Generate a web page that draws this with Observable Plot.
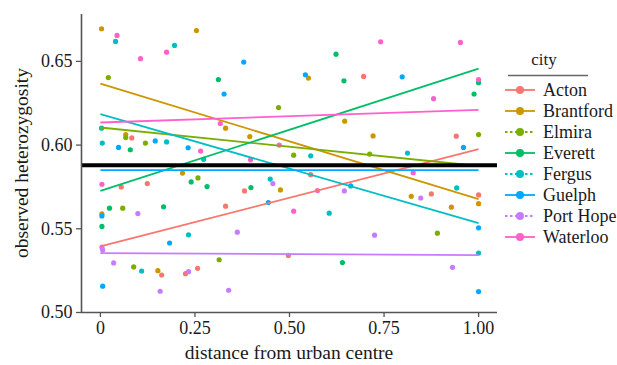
<!DOCTYPE html>
<html>
<head>
<meta charset="utf-8">
<script src="https://cdn.jsdelivr.net/npm/d3@7"></script>
<script src="https://cdn.jsdelivr.net/npm/@observablehq/plot@0.6"></script>
<style>
  html, body { margin: 0; padding: 0; background: #fff; }
  #wrap { position: relative; width: 617px; height: 365px; }
  #wrap svg { position: absolute; left: 0; top: 0; }
  #wrap svg, #wrap svg text { font-family: "Liberation Serif", "Times New Roman", Times, "DejaVu Serif", serif !important; }
</style>
</head>
<body>
<div id="wrap"></div>
<script>
// ---- data ----
const cities = ["Acton", "Brantford", "Elmira", "Everett", "Fergus", "Guelph", "Port Hope", "Waterloo"];
const cityColors = ["#F8766D", "#CD9600", "#7CAE00", "#00BE67", "#00BFC4", "#00A9FF", "#C77CFF", "#FF61CC"];
const legendDashed = [false, false, true, false, true, false, true, false];

// observed heterozygosity at each site: [distance, heterozygosity]
const acton = [[0.055,0.575],[0.083,0.6043],[0.124,0.577],[0.162,0.5224],[0.225,0.5232],[0.257,0.5264],[0.331,0.5635],[0.381,0.5726],[0.497,0.5341],[0.556,0.5823],[0.696,0.641],[0.875,0.5708],[0.941,0.6053],[1.0,0.5702]];
const brantford = [[0.003,0.6695],[0.004,0.5589],[0.067,0.6063],[0.152,0.525],[0.217,0.5833],[0.254,0.6684],[0.331,0.6101],[0.395,0.6051],[0.476,0.5732],[0.550,0.640],[0.646,0.6143],[0.721,0.6055],[0.822,0.5694],[0.928,0.5629],[1.0,0.565]];
const elmira = [[0.021,0.6403],[0.059,0.5623],[0.067,0.6045],[0.088,0.5272],[0.119,0.6012],[0.258,0.5804],[0.314,0.5315],[0.471,0.6224],[0.511,0.594],[0.712,0.5946],[0.891,0.5474],[1.0,0.6063]];
const everett = [[0.004,0.5514],[0.024,0.5623],[0.079,0.5972],[0.167,0.5631],[0.24,0.578],[0.282,0.5752],[0.312,0.6391],[0.398,0.5746],[0.623,0.6543],[0.640,0.5298],[0.644,0.6384],[0.988,0.6305],[1.0,0.6373]];
const fergus = [[0.003,0.6101],[0.005,0.6012],[0.04,0.6619],[0.109,0.5248],[0.175,0.6019],[0.196,0.6595],[0.233,0.5464],[0.273,0.5915],[0.449,0.5797],[0.556,0.5936],[0.605,0.5593],[0.812,0.5952],[0.942,0.5744],[1.0,0.5355]];
const guelph = [[0.004,0.5577],[0.006,0.5157],[0.048,0.5986],[0.145,0.6025],[0.183,0.5415],[0.232,0.5984],[0.327,0.6305],[0.379,0.6496],[0.444,0.5657],[0.542,0.642],[0.662,0.5756],[0.798,0.6408],[0.96,0.5986],[1.0,0.5506],[1.0,0.5125]];
const portHope = [[0.004,0.539],[0.006,0.5373],[0.035,0.5296],[0.099,0.5591],[0.158,0.5127],[0.233,0.5244],[0.339,0.5133],[0.362,0.548],[0.456,0.577],[0.645,0.5726],[0.725,0.5462],[0.847,0.5684],[0.931,0.527]];
const waterloo = [[0.004,0.5766],[0.044,0.6655],[0.106,0.6516],[0.175,0.6555],[0.265,0.5964],[0.317,0.6129],[0.397,0.5912],[0.473,0.600],[0.511,0.5605],[0.574,0.5728],[0.741,0.6617],[0.827,0.5835],[0.881,0.6277],[0.952,0.6613],[1.0,0.6391]];

// fitted regression line values at distance 0 and 1
const fitAtStart = [0.5395, 0.6367, 0.6105, 0.5726, 0.6185, 0.5851, 0.5355, 0.6135];
const fitAtEnd   = [0.5976, 0.5677, 0.5875, 0.6457, 0.5534, 0.5851, 0.5343, 0.6210];
const fitFrom = 0;
const fitTo = 1;
const overallMean = 0.588;

const xTicks = [0, 0.25, 0.5, 0.75, 1];
const xTickLabels = ["0", "0.25", "0.50", "0.75", "1.00"];
const yTicks = [0.50, 0.55, 0.60, 0.65];
const xDomain = [-0.05, 1.05];
const yDomain = [0.50, 0.678];
const xTitle = "distance from urban centre";
const yTitle = "observed heterozygosity";
const legendTitle = "city";

// ---- build tables ----
const series = [acton, brantford, elmira, everett, fergus, guelph, portHope, waterloo];
const points = series.flatMap((arr, i) => arr.map(([x, y]) => ({city: cities[i], x, y})));
const fits = cities.map((c, i) => ({city: c, x1: fitFrom, x2: fitTo, y1: fitAtStart[i], y2: fitAtEnd[i]}));

const font = "Liberation Serif, Times New Roman, Times, DejaVu Serif, serif";

const chart = Plot.plot({
  width: 617,
  height: 365,
  marginLeft: 81,
  marginRight: 120,
  marginTop: 14,
  marginBottom: 53,
  style: {fontFamily: font, fontSize: "18px", color: "#1a1a1a", background: "transparent"},
  x: {domain: xDomain},
  y: {domain: yDomain},
  color: {domain: cities, range: cityColors},
  marks: [
    Plot.dot(points, {x: "x", y: "y", fill: "city", r: 2.6, stroke: "none"}),
    Plot.link(fits, {x1: "x1", x2: "x2", y1: "y1", y2: "y2", stroke: "city", strokeWidth: 1.8}),
    Plot.ruleY([overallMean], {stroke: "#000", strokeWidth: 4}),
    Plot.ruleX([xDomain[0]], {stroke: "#555", strokeWidth: 1.6}),
    Plot.ruleY([yDomain[0]], {stroke: "#555", strokeWidth: 1.6}),
    Plot.axisX({ticks: xTicks, tickFormat: d => xTickLabels[xTicks.indexOf(d)], tickSize: 5, tickPadding: 4, stroke: "#555", strokeWidth: 1.3, label: null, fontSize: 18}),
    Plot.axisY({ticks: yTicks, tickFormat: d => d.toFixed(2), tickSize: 5, tickPadding: 4, stroke: "#555", strokeWidth: 1.3, label: null, fontSize: 18})
  ]
});

const wrap = document.getElementById("wrap");
wrap.appendChild(chart);

// ---- overlay: axis titles and legend ----
const svg = d3.select(wrap).append("svg")
  .attr("width", 617).attr("height", 365)
  .attr("font-family", font)
  .style("pointer-events", "none");

svg.append("text")
  .attr("x", 289).attr("y", 359)
  .attr("text-anchor", "middle")
  .attr("font-family", font)
  .attr("font-size", 19.5)
  .attr("fill", "#1a1a1a")
  .text(xTitle);

svg.append("text")
  .attr("transform", "translate(27.5,163) rotate(-90)")
  .attr("text-anchor", "middle")
  .attr("font-family", font)
  .attr("font-size", 19.5)
  .attr("fill", "#1a1a1a")
  .text(yTitle);

svg.append("text")
  .attr("x", 544).attr("y", 65)
  .attr("text-anchor", "middle")
  .attr("font-family", font)
  .attr("font-size", 17)
  .attr("fill", "#1a1a1a")
  .text(legendTitle);

svg.append("line")
  .attr("x1", 508).attr("x2", 588).attr("y1", 75.5).attr("y2", 75.5)
  .attr("stroke", "#666").attr("stroke-width", 1.5);

const items = svg.selectAll("g.item").data(cities).join("g")
  .attr("transform", (d, i) => `translate(0,${90 + i * 21})`);
items.append("line")
  .attr("x1", 505).attr("x2", 535).attr("y1", 0).attr("y2", 0)
  .attr("stroke", (d, i) => cityColors[i])
  .attr("stroke-width", 1.8)
  .attr("stroke-dasharray", (d, i) => legendDashed[i] ? "2.5,2.5" : null);
items.append("circle")
  .attr("cx", 520).attr("cy", 0).attr("r", 4)
  .attr("fill", (d, i) => cityColors[i]);
items.append("text")
  .attr("x", 543).attr("y", 0).attr("dy", "0.35em")
  .attr("font-family", font)
  .attr("font-size", 18)
  .attr("fill", "#1a1a1a")
  .text(d => d);
</script>
</body>
</html>
